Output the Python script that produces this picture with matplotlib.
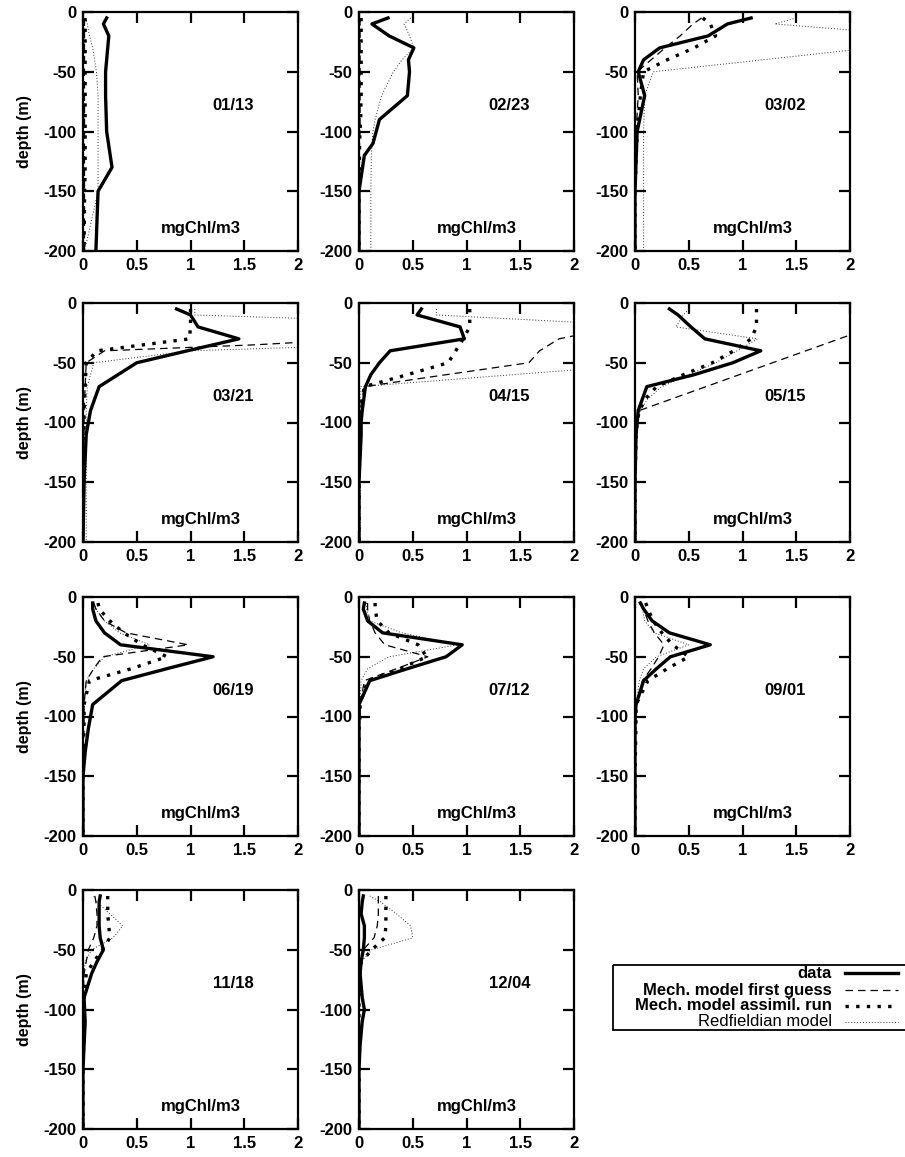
import matplotlib
matplotlib.use("Agg")
import matplotlib.pyplot as plt
from matplotlib.lines import Line2D
from matplotlib.patches import Rectangle

plt.rcParams["font.family"] = ["Liberation Sans", "DejaVu Sans"]
plt.rcParams["font.weight"] = "bold"
plt.rcParams["axes.unicode_minus"] = False

# chlorophyll profiles (depth in m, values in mgChl/m3)
dates = ["01/13", "02/23", "03/02", "03/21", "04/15", "05/15",
         "06/19", "07/12", "09/01", "11/18", "12/04"]

z_0113 = [5, 10, 20, 30, 50, 70, 100, 130, 150, 200]
data_0113 = [0.22, 0.19, 0.24, 0.23, 0.21, 0.21, 0.22, 0.27, 0.14, 0.12]
first_0113 = [0.01, 0.01, 0.01, 0.01, 0.01, 0.01, 0.01, 0.01, 0.01, 0.01]
assim_0113 = [0.02, 0.02, 0.02, 0.02, 0.02, 0.02, 0.02, 0.02, 0.015, 0.01]
redf_0113 = [0.02, 0.04, 0.06, 0.09, 0.125, 0.14, 0.14, 0.14, 0.14, 0.015]

z_0223 = [5, 10, 20, 30, 40, 50, 70, 90, 100, 110, 120, 150, 200]
data_0223 = [0.27, 0.12, 0.28, 0.51, 0.46, 0.47, 0.45, 0.19, 0.16, 0.13, 0.05, 0.0, 0.0]
first_0223 = [0.01, 0.01, 0.01, 0.01, 0.01, 0.01, 0.01, 0.01, 0.01, 0.005, 0.005, 0.0, 0.0]
assim_0223 = [0.02, 0.02, 0.02, 0.02, 0.02, 0.02, 0.02, 0.015, 0.01, 0.005, 0.005, 0.0, 0.0]
redf_0223 = [0.48, 0.42, 0.47, 0.51, 0.40, 0.32, 0.21, 0.15, 0.13, 0.12, 0.115, 0.11, 0.11]

z_0302 = [5, 10, 20, 30, 40, 50, 70, 100, 150, 200]
data_0302 = [1.08, 0.86, 0.68, 0.23, 0.08, 0.03, 0.09, 0.02, 0.0, 0.0]
first_0302 = [0.62, 0.54, 0.42, 0.28, 0.15, 0.02, 0.03, 0.01, 0.0, 0.0]
assim_0302 = [0.63, 0.70, 0.75, 0.55, 0.30, 0.08, 0.05, 0.02, 0.0, 0.0]
redf_0302 = [1.5, 1.3, 2.7, 2.2, 1.19, 0.17, 0.09, 0.08, 0.08, 0.08]

z_0321 = [5, 10, 20, 30, 35, 40, 50, 70, 90, 110, 150, 200]
data_0321 = [0.87, 1.0, 1.07, 1.45, 1.21, 0.97, 0.5, 0.15, 0.07, 0.03, 0.01, 0.0]
first_0321 = [2.6, 2.6, 2.6, 2.6, 1.6, 0.2, 0.03, 0.02, 0.01, 0.01, 0.0, 0.0]
assim_0321 = [1.0, 1.0, 1.0, 0.99, 0.56, 0.13, 0.03, 0.02, 0.01, 0.01, 0.0, 0.0]
redf_0321 = [1.04, 1.04, 4.5, 4.5, 2.75, 1.0, 0.1, 0.04, 0.03, 0.03, 0.03, 0.03]

z_0415 = [5, 10, 20, 30, 40, 50, 60, 70, 90, 100, 110, 150, 200]
data_0415 = [0.58, 0.54, 0.94, 0.98, 0.29, 0.19, 0.11, 0.06, 0.03, 0.02, 0.02, 0.0, 0.0]
first_0415 = [2.8, 2.6, 2.4, 1.86, 1.68, 1.58, 0.81, 0.05, 0.01, 0.01, 0.01, 0.0, 0.0]
assim_0415 = [1.03, 1.03, 1.03, 0.97, 0.9, 0.83, 0.45, 0.05, 0.01, 0.01, 0.01, 0.0, 0.0]
redf_0415 = [0.72, 0.72, 2.85, 3.0, 3.0, 2.85, 1.43, 0.01, 0.01, 0.01, 0.01, 0.01, 0.01]

z_0515 = [5, 10, 20, 30, 40, 50, 60, 70, 80, 90, 100, 110, 150, 200]
data_0515 = [0.32, 0.40, 0.52, 0.65, 1.17, 0.91, 0.55, 0.11, 0.07, 0.03, 0.02, 0.01, 0.0, 0.0]
first_0515 = [2.67, 2.52, 2.21, 1.90, 1.59, 1.28, 0.97, 0.66, 0.35, 0.04, 0.01, 0.01, 0.0, 0.0]
assim_0515 = [1.13, 1.13, 1.13, 1.08, 0.92, 0.72, 0.45, 0.2, 0.1, 0.04, 0.02, 0.01, 0.0, 0.0]
redf_0515 = [0.5, 0.45, 0.38, 1.14, 0.95, 0.75, 0.5, 0.25, 0.12, 0.05, 0.02, 0.01, 0.01, 0.01]

z_0619 = [5, 10, 20, 30, 40, 50, 60, 70, 90, 100, 110, 130, 150, 200]
data_0619 = [0.09, 0.09, 0.12, 0.2, 0.35, 1.21, 0.78, 0.36, 0.09, 0.07, 0.05, 0.02, 0.0, 0.0]
first_0619 = [0.1, 0.12, 0.2, 0.4, 0.98, 0.18, 0.1, 0.03, 0.01, 0.01, 0.01, 0.0, 0.0, 0.0]
assim_0619 = [0.14, 0.15, 0.25, 0.38, 0.55, 0.78, 0.45, 0.06, 0.01, 0.01, 0.01, 0.0, 0.0, 0.0]
redf_0619 = [0.1, 0.12, 0.2, 0.34, 0.62, 0.2, 0.1, 0.03, 0.01, 0.01, 0.0, 0.0, 0.0, 0.0]

z_0712 = [5, 10, 20, 30, 40, 50, 60, 70, 90, 100, 110, 150, 200]
data_0712 = [0.05, 0.04, 0.08, 0.22, 0.96, 0.81, 0.45, 0.1, 0.0, 0.0, 0.0, 0.0, 0.0]
first_0712 = [0.08, 0.08, 0.1, 0.15, 0.24, 0.64, 0.35, 0.05, 0.01, 0.01, 0.0, 0.0, 0.0]
assim_0712 = [0.15, 0.15, 0.17, 0.28, 0.55, 0.63, 0.38, 0.08, 0.01, 0.01, 0.0, 0.0, 0.0]
redf_0712 = [0.07, 0.07, 0.1, 0.4, 0.92, 0.28, 0.08, 0.02, 0.01, 0.01, 0.0, 0.0, 0.0]

z_0901 = [5, 10, 20, 30, 40, 50, 60, 70, 90, 100, 150, 200]
data_0901 = [0.05, 0.08, 0.16, 0.32, 0.70, 0.33, 0.2, 0.08, 0.01, 0.0, 0.0, 0.0]
first_0901 = [0.06, 0.08, 0.12, 0.18, 0.27, 0.22, 0.15, 0.07, 0.01, 0.01, 0.0, 0.0]
assim_0901 = [0.1, 0.12, 0.17, 0.25, 0.35, 0.5, 0.3, 0.12, 0.01, 0.01, 0.0, 0.0]
redf_0901 = [0.06, 0.07, 0.09, 0.18, 0.5, 0.2, 0.08, 0.04, 0.01, 0.01, 0.0, 0.0]

z_1118 = [5, 10, 20, 30, 40, 50, 60, 70, 90, 110, 130, 150, 200]
data_1118 = [0.16, 0.15, 0.15, 0.15, 0.16, 0.19, 0.13, 0.08, 0.01, 0.02, 0.01, 0.0, 0.0]
first_1118 = [0.11, 0.12, 0.13, 0.13, 0.1, 0.05, 0.03, 0.01, 0.0, 0.0, 0.0, 0.0, 0.0]
assim_1118 = [0.23, 0.23, 0.23, 0.24, 0.25, 0.18, 0.1, 0.03, 0.01, 0.01, 0.0, 0.0, 0.0]
redf_1118 = [0.1, 0.13, 0.25, 0.37, 0.28, 0.08, 0.02, 0.01, 0.0, 0.0, 0.0, 0.0, 0.0]

z_1204 = [5, 10, 20, 30, 40, 50, 60, 70, 90, 100, 110, 130, 150, 200]
data_1204 = [0.04, 0.03, 0.02, 0.05, 0.05, 0.04, 0.02, 0.01, 0.03, 0.05, 0.03, 0.01, 0.0, 0.0]
first_1204 = [0.18, 0.18, 0.18, 0.17, 0.14, 0.04, 0.02, 0.01, 0.0, 0.0, 0.0, 0.0, 0.0, 0.0]
assim_1204 = [0.25, 0.25, 0.25, 0.25, 0.24, 0.12, 0.02, 0.01, 0.0, 0.0, 0.0, 0.0, 0.0, 0.0]
redf_1204 = [0.1, 0.2, 0.35, 0.48, 0.5, 0.12, 0.02, 0.01, 0.0, 0.0, 0.0, 0.0, 0.0, 0.0]

panels = [
    (z_0113, data_0113, first_0113, assim_0113, redf_0113),
    (z_0223, data_0223, first_0223, assim_0223, redf_0223),
    (z_0302, data_0302, first_0302, assim_0302, redf_0302),
    (z_0321, data_0321, first_0321, assim_0321, redf_0321),
    (z_0415, data_0415, first_0415, assim_0415, redf_0415),
    (z_0515, data_0515, first_0515, assim_0515, redf_0515),
    (z_0619, data_0619, first_0619, assim_0619, redf_0619),
    (z_0712, data_0712, first_0712, assim_0712, redf_0712),
    (z_0901, data_0901, first_0901, assim_0901, redf_0901),
    (z_1118, data_1118, first_1118, assim_1118, redf_1118),
    (z_1204, data_1204, first_1204, assim_1204, redf_1204),
]

legend_labels = ["data", "Mech. model first guess",
                 "Mech. model assimil. run", "Redfieldian model"]

# line styles: data, first guess, assimilation, redfield
styles = [
    dict(color="black", lw=2.4, ls="-"),
    dict(color="black", lw=0.9, ls=(0, (6, 4))),
    dict(color="black", lw=2.4, ls=(0, (1, 2.2))),
    dict(color="#333333", lw=0.7, ls=(0, (1, 2))),
]

FS = 12
W, H = 905, 1157
fig = plt.figure(figsize=(W / 100, H / 100), dpi=100)

col_left = [83, 359, 635]
row_top = [12, 303, 597, 890]
ax_w, ax_h = 215, 239

for i, (z, data, first, assim, redf) in enumerate(panels):
    r, c = divmod(i, 3)
    ax = fig.add_axes([col_left[c] / W, 1 - (row_top[r] + ax_h) / H,
                       ax_w / W, ax_h / H])
    depth = [-d for d in z]
    series = [data, first, assim, redf]
    for k in [3, 1, 2, 0]:
        ax.plot(series[k], depth, **styles[k])
    ax.set_xlim(0, 2)
    ax.set_ylim(-200, 0)
    ax.set_xticks([0, 0.5, 1, 1.5, 2])
    ax.set_xticklabels(["0", "0.5", "1", "1.5", "2"])
    ax.set_yticks([0, -50, -100, -150, -200])
    ax.tick_params(direction="in", length=8, width=1.6, top=True, right=True,
                   labelsize=FS, pad=5)
    for lab in ax.get_xticklabels() + ax.get_yticklabels():
        lab.set_fontweight("bold")
    for sp in ax.spines.values():
        sp.set_linewidth(1.6)
    ax.text(1.4, -78, dates[i], ha="center", va="center",
            fontsize=FS, fontweight="bold")
    ax.text(1.1, -181, "mgChl/m3", ha="center", va="center",
            fontsize=FS, fontweight="bold")
    if c == 0:
        ax.set_ylabel("depth (m)", fontsize=11.5, fontweight="bold",
                      labelpad=8)

# legend drawn gnuplot-style, box running off the right edge
lax = fig.add_axes([0, 0, 1, 1], facecolor="none")
lax.set_xlim(0, W)
lax.set_ylim(H, 0)
lax.axis("off")
lax.add_patch(Rectangle((613, 965), 320, 65, fill=False, lw=1.3,
                        edgecolor="black", clip_on=False))
row_y = [973, 990, 1006, 1022]
for k, lab in enumerate(legend_labels):
    lax.text(832, row_y[k], lab, ha="right", va="center", fontsize=FS,
             fontweight="normal" if k == 3 else "bold")
    lax.add_line(Line2D([845, 898], [row_y[k], row_y[k]], **styles[k]))

fig.savefig("out.png", dpi=100)
